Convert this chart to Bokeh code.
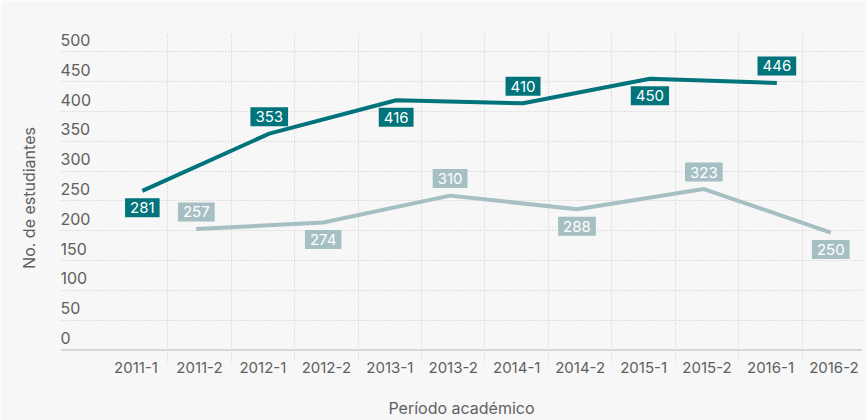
from bokeh.plotting import figure
from bokeh.models import Range1d, FixedTicker, Span, ColumnDataSource
from bokeh.core.properties import value
from bokeh.embed import file_html
from bokeh.resources import INLINE

# ---- data ----
periods = ["2011-1", "2011-2", "2012-1", "2012-2", "2013-1", "2013-2",
           "2014-1", "2014-2", "2015-1", "2015-2", "2016-1", "2016-2"]

dark_periods = ["2011-1", "2012-1", "2013-1", "2014-1", "2015-1", "2016-1"]
dark_values = [267, 363, 419, 414, 455, 448]
dark_labels = ["281", "353", "416", "410", "450", "446"]

light_periods = ["2011-2", "2012-2", "2013-2", "2014-2", "2015-2", "2016-2"]
light_values = [203, 214, 259, 236, 270, 197]
light_labels = ["257", "274", "310", "288", "323", "250"]

y_ticks = [0, 50, 100, 150, 200, 250, 300, 350, 400, 450, 500]

x_title = "Período académico"
y_title = "No. de estudiantes"

# ---- styles ----
BG = "#f7f7f7"
DARK = "#00737b"
LIGHT = "#a6bfc3"
GRID = "#c9c9c9"
TXT = "#606060"
FONT = "Inter"
X_START, X_END = -0.69, 11.95
DODGE_DARK, DODGE_LIGHT = 0.1, -0.05
LABEL_OFF = 17

p = figure(width=866, height=420, title=None,
           x_range=Range1d(X_START, X_END), y_range=Range1d(-21, 531),
           output_backend="svg", toolbar_location=None,
           background_fill_color=BG, border_fill_color=BG,
           outline_line_color=None,
           min_border_left=60, min_border_right=4,
           min_border_top=33, min_border_bottom=57)

# x axis with period labels at category centres
centers = [i + 0.5 for i in range(len(periods))]
p.xaxis.ticker = FixedTicker(ticks=centers)
p.xaxis.major_label_overrides = {c: lab for c, lab in zip(centers, periods)}
p.xaxis.axis_line_color = None
p.xaxis.major_tick_line_color = None
p.xaxis.minor_tick_line_color = None
p.xaxis.major_tick_out = 0
p.xaxis.major_tick_in = 0
p.xaxis.minor_tick_out = 0
p.xaxis.minor_tick_in = 0
p.xaxis.major_label_standoff = -1
p.xaxis.major_label_text_font = FONT
p.xaxis.major_label_text_font_size = "15px"
p.xaxis.major_label_text_color = TXT
p.xaxis.axis_label = x_title
p.xaxis.axis_label_text_font = FONT
p.xaxis.axis_label_text_font_style = "normal"
p.xaxis.axis_label_text_font_size = "16px"
p.xaxis.axis_label_text_color = TXT
p.xaxis.axis_label_standoff = 22

# y axis: only the title; tick labels are drawn inside the plot
p.yaxis.ticker = FixedTicker(ticks=[])
p.yaxis.major_label_standoff = 0
p.yaxis.axis_line_color = None
p.yaxis.major_tick_line_color = None
p.yaxis.minor_tick_line_color = None
p.yaxis.major_tick_out = 0
p.yaxis.major_tick_in = 0
p.yaxis.minor_tick_out = 0
p.yaxis.minor_tick_in = 0
p.yaxis.axis_label = y_title
p.yaxis.axis_label_text_font = FONT
p.yaxis.axis_label_text_font_style = "normal"
p.yaxis.axis_label_text_font_size = "16px"
p.yaxis.axis_label_text_color = TXT
p.yaxis.axis_label_standoff = 22

# grids
p.xgrid.ticker = FixedTicker(ticks=list(range(1, len(periods))))
p.ygrid.ticker = FixedTicker(ticks=y_ticks[1:])
for g in (p.xgrid, p.ygrid):
    g.grid_line_color = GRID
    g.grid_line_dash = "1 2"
    g.grid_line_width = 1

p.add_layout(Span(location=0, dimension="width", line_color="#d6d6d6", line_width=2))

# y tick labels above grid lines
p.text(x=[X_START] * len(y_ticks), y=y_ticks, text=[str(t) for t in y_ticks],
       text_font=value(FONT), text_font_size="16px", text_color=TXT,
       text_align="left", text_baseline="alphabetic", y_offset=-12)

# lines
dark_x = [periods.index(c) + 0.5 + DODGE_DARK for c in dark_periods]
light_x = [periods.index(c) + 0.5 + DODGE_LIGHT for c in light_periods]
p.line(light_x, light_values, line_color=LIGHT, line_width=4)
p.line(dark_x, dark_values, line_color=DARK, line_width=4)

# value labels
dark_src = ColumnDataSource(dict(
    x=dark_x, y=dark_values, t=dark_labels,
    off=[LABEL_OFF if i % 2 == 0 else -LABEL_OFF for i in range(len(dark_x))]))
light_src = ColumnDataSource(dict(
    x=light_x, y=light_values, t=light_labels,
    off=[-LABEL_OFF if i % 2 == 0 else LABEL_OFF for i in range(len(light_x))]))

for src, col in ((light_src, LIGHT), (dark_src, DARK)):
    p.text(x="x", y="y", text="t", y_offset="off", source=src,
           text_font=value(FONT), text_font_size="15px", text_color="white",
           text_align="center", text_baseline="middle",
           background_fill_color=col, padding=(5, 4))

open("out.html", "w").write(file_html(p, INLINE))
